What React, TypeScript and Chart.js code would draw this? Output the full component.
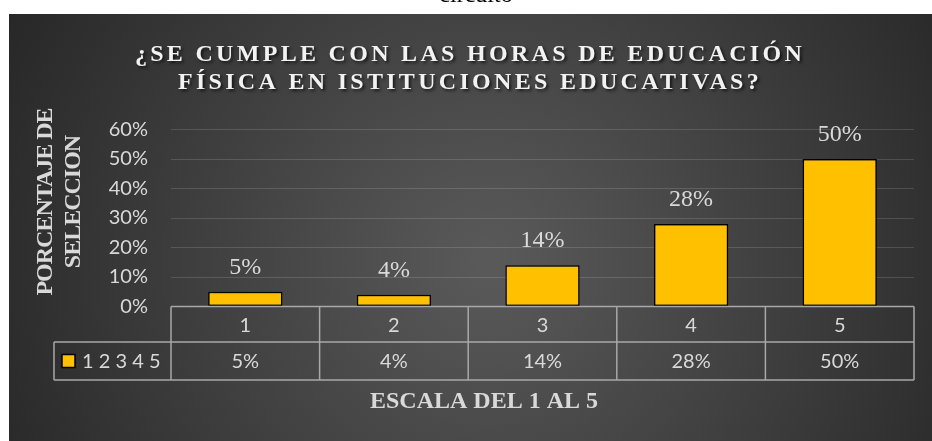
import React, { useEffect, useRef } from 'react';
import { Chart, registerables } from 'chart.js';

Chart.register(...registerables);

const TOP_NOTE = 'circuito';
const TITLE_LINES = ['¿SE CUMPLE CON LAS HORAS DE EDUCACIÓN', 'FÍSICA EN ISTITUCIONES EDUCATIVAS?'];
const Y_TITLE_LINES = ['PORCENTAJE DE', 'SELECCION'];
const X_TITLE = 'ESCALA DEL 1 AL 5';
const CATEGORIES = ['1', '2', '3', '4', '5'];
const SERIES_NAME = '1 2 3 4 5';
const VALUES = [0.05, 0.04, 0.14, 0.28, 0.5];
const Y_MIN = 0;
const Y_MAX = 0.6;
const Y_STEP = 0.1;

const W = 923;
const H = 427;
const SERIF = '"Liberation Serif", "Times New Roman", serif';
const SANS = 'Lato, "Open Sans", sans-serif';
const TEXT = '#d9d9d9';
const BAR = '#FFC000';

const pct = (v: number) => `${Math.round(v * 100)}%`;

const decor = {
  id: 'decor',
  beforeDraw(chart: any) {
    const ctx = chart.ctx;
    ctx.save();
    const g = ctx.createRadialGradient(480, 250, 0, 480, 250, 600);
    g.addColorStop(0, '#5a5a5a');
    g.addColorStop(1, '#222222');
    ctx.fillStyle = g;
    ctx.fillRect(0, 0, W, H);
    ctx.restore();
  },
  afterDatasetsDraw(chart: any) {
    const ctx = chart.ctx;
    const meta = chart.getDatasetMeta(0);
    ctx.save();
    ctx.fillStyle = TEXT;
    ctx.font = `24px ${SERIF}`;
    ctx.textAlign = 'center';
    ctx.textBaseline = 'alphabetic';
    meta.data.forEach((el: any, i: number) => {
      ctx.fillText(pct(VALUES[i]), el.x, el.y - 18);
    });
    ctx.restore();
  },
  afterDraw(chart: any) {
    const ctx = chart.ctx;
    const area = chart.chartArea;
    const n = CATEGORIES.length;
    const colW = (area.right - area.left) / n;
    const legendLeft = 45;
    const rowTop = area.bottom;
    const row1B = rowTop + 35.5;
    const row2B = row1B + 38;

    ctx.save();
    // title
    ctx.font = `bold 24px ${SERIF}`;
    (ctx as any).letterSpacing = '3.3px';
    ctx.fillStyle = '#f2f2f2';
    ctx.textAlign = 'center';
    ctx.textBaseline = 'alphabetic';
    ctx.shadowColor = 'rgba(0,0,0,0.65)';
    ctx.shadowBlur = 3;
    ctx.shadowOffsetX = 2;
    ctx.shadowOffsetY = 2;
    ctx.fillText(TITLE_LINES[0], 461, 47);
    ctx.fillText(TITLE_LINES[1], 461, 75);
    ctx.restore();

    // y title
    ctx.save();
    ctx.font = `bold 24px ${SERIF}`;
    (ctx as any).letterSpacing = '-1px';
    ctx.fillStyle = TEXT;
    ctx.textAlign = 'center';
    ctx.textBaseline = 'alphabetic';
    const yMid = 188;
    [43, 71].forEach((bx, i) => {
      ctx.save();
      ctx.translate(bx, yMid);
      ctx.rotate(-Math.PI / 2);
      ctx.fillText(Y_TITLE_LINES[i], 0, 0);
      ctx.restore();
    });
    ctx.restore();

    // data table
    ctx.save();
    ctx.strokeStyle = '#a8a8a8';
    ctx.lineWidth = 1.5;
    const line = (x1: number, y1: number, x2: number, y2: number) => {
      ctx.beginPath();
      ctx.moveTo(x1, y1);
      ctx.lineTo(x2, y2);
      ctx.stroke();
    };
    line(area.left, rowTop, area.right, rowTop);
    line(legendLeft, row1B, area.right, row1B);
    line(legendLeft, row2B, area.right, row2B);
    for (let i = 0; i <= n; i++) {
      const x = area.left + i * colW;
      line(x, rowTop, x, row2B);
    }
    line(legendLeft, row1B, legendLeft, row2B);

    ctx.fillStyle = TEXT;
    ctx.font = `20px ${SANS}`;
    ctx.textAlign = 'center';
    ctx.textBaseline = 'middle';
    const xs = chart.scales.x;
    CATEGORIES.forEach((c, i) => {
      const cx = xs.getPixelForValue(i);
      ctx.fillText(c, cx, (rowTop + row1B) / 2 + 1);
      ctx.fillText(pct(VALUES[i]), cx, (row1B + row2B) / 2 + 1);
    });

    // legend key
    const ky = (row1B + row2B) / 2;
    ctx.fillStyle = BAR;
    ctx.fillRect(53, ky - 6.5, 13, 13);
    ctx.strokeStyle = '#000';
    ctx.lineWidth = 1.5;
    ctx.strokeRect(53, ky - 6.5, 13, 13);
    ctx.fillStyle = TEXT;
    ctx.textAlign = 'left';
    ctx.fillText(SERIES_NAME, 73, ky + 1);

    // x title
    ctx.font = `bold 24px ${SERIF}`;
    ctx.textAlign = 'center';
    ctx.textBaseline = 'alphabetic';
    ctx.fillText(X_TITLE, (legendLeft + area.right) / 2, 394);
    ctx.restore();
  },
};

export default function App() {
  const ref = useRef<HTMLCanvasElement | null>(null);

  useEffect(() => {
    if (!ref.current) return;
    const chart = new Chart(ref.current, {
      type: 'bar',
      data: {
        labels: CATEGORIES,
        datasets: [
          {
            label: SERIES_NAME,
            data: VALUES,
            backgroundColor: BAR,
            borderColor: '#000000',
            borderWidth: 1.5,
            borderSkipped: false,
            barPercentage: 0.5,
            categoryPercentage: 1,
          },
        ],
      },
      options: {
        responsive: false,
        animation: false,
        devicePixelRatio: 1,
        layout: { padding: { left: 0, right: 18, top: 115.5, bottom: 134.5 } },
        plugins: {
          legend: { display: false },
          tooltip: { enabled: false },
          title: { display: false },
        },
        scales: {
          x: { display: false },
          y: {
            min: Y_MIN,
            max: Y_MAX,
            border: { display: false },
            grid: { color: 'rgba(255,255,255,0.14)', lineWidth: 1, drawTicks: false },
            ticks: {
              stepSize: Y_STEP,
              padding: 23,
              color: TEXT,
              font: { family: SANS, size: 20 },
              callback: (v: any) => pct(Number(v)),
            },
            afterFit: (s: any) => {
              s.width = 162;
            },
          },
        },
      },
      plugins: [decor],
    });
    return () => chart.destroy();
  }, []);

  return (
    <>
      <div
        style={{
          position: 'fixed',
          top: -18,
          left: 476,
          transform: 'translateX(-50%)',
          fontFamily: SERIF,
          fontSize: 24,
          lineHeight: '24px',
          color: '#000',
          whiteSpace: 'nowrap',
        }}
      >
        {TOP_NOTE}
      </div>
      <canvas
        ref={ref}
        width={W}
        height={H}
        style={{ position: 'fixed', left: 9, top: 14, width: W, height: H, display: 'block' }}
      />
    </>
  );
}
